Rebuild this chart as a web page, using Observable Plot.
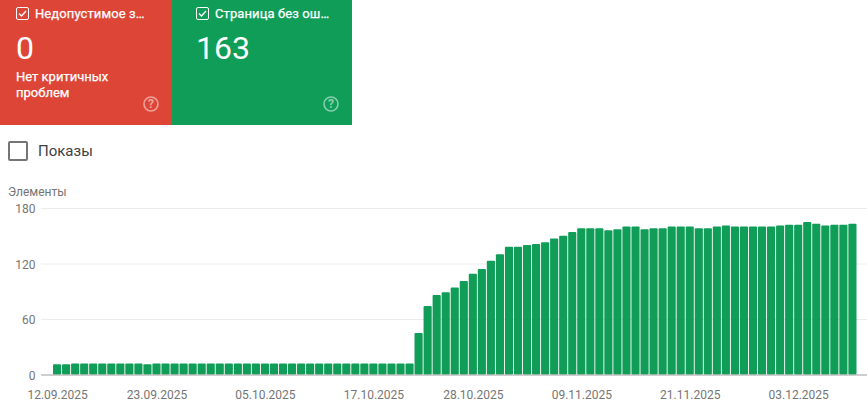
<!DOCTYPE html>
<html><head><meta charset="utf-8">
<script src="https://cdn.jsdelivr.net/npm/d3@7"></script>
<script src="https://cdn.jsdelivr.net/npm/@observablehq/plot@0.6"></script>
<style>
html,body{margin:0;padding:0;background:#fff;width:867px;height:411px;overflow:hidden;font-family:Roboto,sans-serif;}
.card{position:absolute;top:0;height:125px;color:#fff;}
.card .t{position:absolute;left:35px;top:6px;font-size:13px;font-weight:400;line-height:16px;white-space:nowrap;letter-spacing:.1px;-webkit-text-stroke:.25px #fff}
.card .n{position:absolute;left:16px;top:29px;font-size:32px;line-height:38px;font-weight:400}
.card .d{position:absolute;left:16px;top:69px;font-size:13px;font-weight:400;line-height:16px;-webkit-text-stroke:.25px #fff}
.cb{position:absolute;left:16px;top:7px;width:11px;height:11px;border:1px solid #fff;border-radius:2px}
.cb svg{position:absolute;left:0;top:0}
.q{position:absolute;top:96px;width:16px;height:16px;opacity:.5}
#cb2{position:absolute;left:8px;top:141px;width:16px;height:16px;border:2px solid #757575;border-radius:2px}
#lab{position:absolute;left:38px;top:142px;font-size:15px;line-height:18px;color:#3c4043}
#yl{position:absolute;left:8px;top:185px;font-size:12px;line-height:14px;color:#757575}
#chart{position:absolute;left:0;top:195px}
</style></head><body>
<div class="card" style="left:0;width:172px;background:#dd4537">
 <div class="cb"><svg width="11" height="11" viewBox="0 0 11 11"><path d="M2 5.5l2.5 2.5L9 3" fill="none" stroke="#fff" stroke-width="1.4"/></svg></div>
 <div class="t">Недопустимое з…</div><div class="n">0</div><div class="d">Нет критичных<br>проблем</div>
 <svg class="q" style="left:143px" viewBox="0 0 16 16"><circle cx="8" cy="8" r="7" fill="none" stroke="#fff" stroke-width="1.6"/><text x="8" y="12.2" text-anchor="middle" font-size="12" font-weight="700" font-family="Roboto" fill="#fff">?</text></svg>
</div>
<div class="card" style="left:172px;width:180px;background:#0f9d58">
 <div class="cb" style="left:24px"><svg width="11" height="11" viewBox="0 0 11 11"><path d="M2 5.5l2.5 2.5L9 3" fill="none" stroke="#fff" stroke-width="1.4"/></svg></div>
 <div class="t" style="left:43px">Страница без ош…</div><div class="n" style="left:24px">163</div>
 <svg class="q" style="left:151px" viewBox="0 0 16 16"><circle cx="8" cy="8" r="7" fill="none" stroke="#fff" stroke-width="1.6"/><text x="8" y="12.2" text-anchor="middle" font-size="12" font-weight="700" font-family="Roboto" fill="#fff">?</text></svg>
</div>
<div id="cb2"></div><div id="lab">Показы</div>
<div id="yl">Элементы</div>
<div id="chart"></div>
<script>
const startDate = "2025-09-12";
const values = [
 11,11,12,12,12,12,12,12,12,12,11,12,12,12,12,12,12,12,12,12,
 12,12,12,12,12,12,12,12,12,12,12,12,12,12,12,12,12,12,12,12,
 45,74,86,89,94,101,109,114,123,130,138,138,140,141,143,147,150,154,158,158,
 158,156,157,160,160,157,158,158,160,160,160,158,158,160,161,160,160,160,160,160,
 161,162,162,165,163,161,162,162,163
];
const yTicks = [0,60,120,180];
const xTickLabels = ["12.09.2025","23.09.2025","05.10.2025","17.10.2025","28.10.2025","09.11.2025","21.11.2025","03.12.2025"];

const fmt = d3.utcFormat("%d.%m.%Y");
const start = new Date(startDate + "T00:00:00Z");
const dates = values.map((_, i) => fmt(d3.utcDay.offset(start, i)));
const rows = values.map((v, i) => ({date: dates[i], value: v}));

const plot = Plot.plot({
  width: 867, height: 216,
  marginTop: 13, marginBottom: 36.5, marginLeft: 52.1, marginRight: 9.6,
  style: {fontFamily: "Roboto, sans-serif", fontSize: "12px", color: "#757575", background: "transparent"},
  x: {type: "band", domain: dates, padding: 0.1, align: 0.5, round: false, label: null},
  y: {domain: [0, 180], label: null},
  marks: [
    Plot.ruleY(yTicks.slice(1), {stroke: "#ececec", strokeWidth: 1, strokeOpacity: 1, insetLeft: -11, insetRight: -9.6}),
    Plot.barY(rows, {x: "date", y: "value", fill: "#0f9d58", rx: 1}),
    Plot.ruleY([0], {stroke: "#9e9e9e", strokeWidth: 1, insetLeft: -11, insetRight: -9.6}),
    Plot.axisY({ticks: yTicks, tickSize: 0, tickPadding: 0, marginLeft: 52.1, dx: -17, dy: 1, label: null, fill: "#757575", fontSize: 12}),
    Plot.axisX({ticks: xTickLabels, tickSize: 0, tickPadding: 15, label: null, fill: "#757575", fontSize: 12})
  ]
});
document.getElementById("chart").appendChild(plot);
</script>
</body></html>
